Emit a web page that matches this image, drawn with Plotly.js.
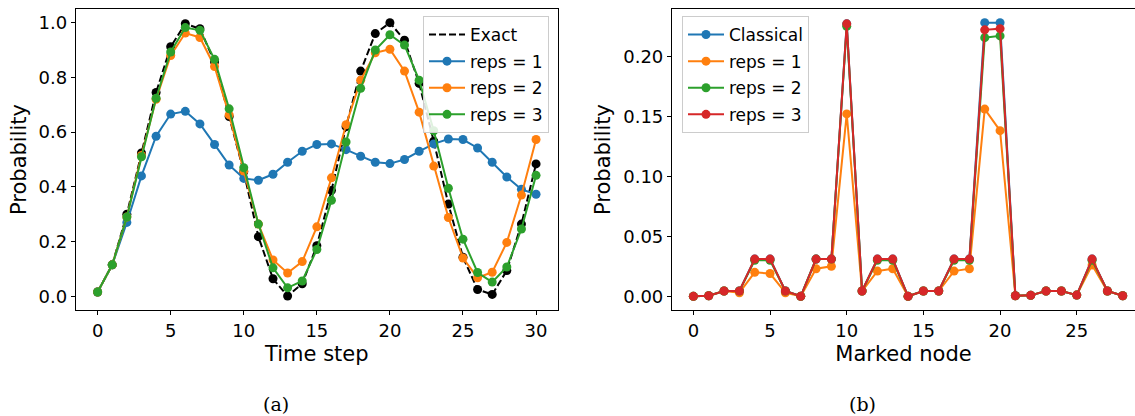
<!DOCTYPE html>
<html>
<head>
<meta charset="utf-8">
<script src="https://cdn.plot.ly/plotly-3.0.1.min.js"></script>
<style>html,body{margin:0;padding:0;background:#fff;}#chart{width:1135px;height:416px;}</style>
</head>
<body>
<div id="chart"></div>
<script>
// ---- Panel (a): probability vs time step ----
const timeSteps = [0,1,2,3,4,5,6,7,8,9,10,11,12,13,14,15,16,17,18,19,20,21,22,23,24,25,26,27,28,29,30];
const exactA = [0.016,0.115,0.30,0.524,0.745,0.912,0.996,0.978,0.857,0.657,0.455,0.218,0.064,0.001,0.046,0.185,0.387,0.62,0.823,0.96,1.0,0.936,0.778,0.567,0.337,0.143,0.025,0.007,0.094,0.264,0.484];
const reps1A = [0.016,0.115,0.27,0.44,0.585,0.666,0.676,0.63,0.555,0.48,0.431,0.424,0.446,0.49,0.53,0.555,0.557,0.536,0.512,0.49,0.485,0.50,0.53,0.557,0.575,0.573,0.542,0.49,0.436,0.391,0.373];
const reps2A = [0.016,0.115,0.29,0.515,0.72,0.88,0.962,0.946,0.84,0.663,0.458,0.264,0.133,0.085,0.127,0.254,0.433,0.627,0.79,0.89,0.903,0.823,0.673,0.476,0.288,0.14,0.068,0.088,0.197,0.37,0.573];
const reps3A = [0.016,0.115,0.29,0.51,0.724,0.893,0.982,0.972,0.866,0.685,0.47,0.264,0.104,0.031,0.056,0.171,0.351,0.564,0.76,0.90,0.956,0.918,0.79,0.605,0.395,0.209,0.087,0.052,0.107,0.246,0.442];

// ---- Panel (b): probability vs marked node ----
const nodes = [0,1,2,3,4,5,6,7,8,9,10,11,12,13,14,15,16,17,18,19,20,21,22,23,24,25,26,27,28];
const classicalB = [0,0.0005,0.0044,0.0044,0.031,0.031,0.0044,0,0.031,0.031,0.227,0.0044,0.031,0.031,0,0.0044,0.0044,0.031,0.031,0.228,0.228,0.0005,0.0008,0.0044,0.0044,0.001,0.031,0.0044,0.0005];
const reps1B = [0,0.0005,0.0044,0.003,0.020,0.019,0.003,0,0.023,0.025,0.152,0.0044,0.021,0.023,0,0.0044,0.0044,0.021,0.023,0.156,0.138,0.0005,0.0008,0.0044,0.0044,0.001,0.026,0.0044,0.0005];
const reps2B = [0,0.0005,0.0044,0.0044,0.030,0.030,0.0044,0,0.031,0.031,0.225,0.0044,0.030,0.030,0,0.0044,0.0044,0.030,0.030,0.2155,0.217,0.0005,0.0008,0.0044,0.0044,0.001,0.030,0.0044,0.0005];
const reps3B = [0,0.0005,0.0044,0.0044,0.031,0.031,0.0044,0,0.031,0.031,0.227,0.0044,0.031,0.031,0,0.0044,0.0044,0.031,0.031,0.222,0.223,0.0005,0.0008,0.0044,0.0044,0.001,0.031,0.0044,0.0005];

const tickA = [0,5,10,15,20,25,30];
const tickB = [0,5,10,15,20,25];
const yTickA = [0,0.2,0.4,0.6,0.8,1.0];
const yTickB = [0,0.05,0.10,0.15,0.20];

const C = {blue:'#1f77b4', orange:'#ff7f0e', green:'#2ca02c', red:'#d62728'};
const FONT = 'DejaVu Sans, sans-serif';
const mk = (c) => ({color:c, size:9});
const ln = (c) => ({color:c, width:2});

const traces = [
  {x:timeSteps, y:exactA, mode:'markers', marker:mk('black'), showlegend:false, xaxis:'x', yaxis:'y', hoverinfo:'skip', legendgroup:'a0'},
  {x:timeSteps, y:exactA, mode:'lines', name:'Exact', line:{color:'black', width:2, dash:'7px,3px'}, xaxis:'x', yaxis:'y', legend:'legend', legendgroup:'a0'},
  {x:timeSteps, y:reps1A, mode:'lines+markers', name:'reps = 1', line:ln(C.blue), marker:mk(C.blue), xaxis:'x', yaxis:'y', legend:'legend', legendgroup:'a1'},
  {x:timeSteps, y:reps2A, mode:'lines+markers', name:'reps = 2', line:ln(C.orange), marker:mk(C.orange), xaxis:'x', yaxis:'y', legend:'legend', legendgroup:'a2'},
  {x:timeSteps, y:reps3A, mode:'lines+markers', name:'reps = 3', line:ln(C.green), marker:mk(C.green), xaxis:'x', yaxis:'y', legend:'legend', legendgroup:'a3'},

  {x:nodes, y:classicalB, mode:'lines+markers', name:'Classical', line:ln(C.blue), marker:mk(C.blue), xaxis:'x2', yaxis:'y2', legend:'legend2', legendgroup:'b0'},
  {x:nodes, y:reps1B, mode:'lines+markers', name:'reps = 1', line:ln(C.orange), marker:mk(C.orange), xaxis:'x2', yaxis:'y2', legend:'legend2', legendgroup:'b1'},
  {x:nodes, y:reps2B, mode:'lines+markers', name:'reps = 2', line:ln(C.green), marker:mk(C.green), xaxis:'x2', yaxis:'y2', legend:'legend2', legendgroup:'b2'},
  {x:nodes, y:reps3B, mode:'lines+markers', name:'reps = 3', line:ln(C.red), marker:mk(C.red), xaxis:'x2', yaxis:'y2', legend:'legend2', legendgroup:'b3'}
];

const axBase = {
  showgrid:false, zeroline:false, showline:true, linecolor:'black', linewidth:1,
  ticks:'outside', ticklen:4, tickwidth:1, tickcolor:'black',
  tickfont:{family:FONT, size:18, color:'black'}
};
const titleFont = {family:FONT, size:21, color:'black'};
const legBase = {
  bgcolor:'rgba(255,255,255,0.85)', bordercolor:'#cccccc', borderwidth:1,
  font:{family:FONT, size:17, color:'black'}, tracegroupgap:1.5, itemwidth:36, traceorder:'grouped'
};

const layout = {
  width:1135, height:416,
  margin:{l:0, r:0, t:0, b:0},
  paper_bgcolor:'white', plot_bgcolor:'white',
  showlegend:true,
  xaxis:Object.assign({}, axBase, {domain:[0.0667,0.4916], range:[-1.5,31.5], tickvals:tickA, mirror:true, anchor:'y',
    title:{text:'Time step', font:titleFont, standoff:6}}),
  yaxis:Object.assign({}, axBase, {domain:[0.2548,0.9784], range:[-0.05,1.05], tickvals:yTickA, tickformat:'.1f', mirror:true, anchor:'x',
    title:{text:'Probability', font:titleFont, standoff:6}}),
  xaxis2:Object.assign({}, axBase, {domain:[0.592,1.0], range:[-1.4,28.8], tickvals:tickB, mirror:true, anchor:'y2',
    title:{text:'Marked node', font:titleFont, standoff:6}}),
  yaxis2:Object.assign({}, axBase, {domain:[0.2548,0.9784], range:[-0.0114,0.2394], tickvals:yTickB, tickformat:'.2f', anchor:'x2',
    title:{text:'Probability', font:titleFont, standoff:6}}),
  legend:Object.assign({}, legBase, {x:549/1135, y:1-16/416, xanchor:'right', yanchor:'top'}),
  legend2:Object.assign({}, legBase, {x:682/1135, y:1-16/416, xanchor:'left', yanchor:'top'}),
  annotations:[
    {text:'(a)', xref:'paper', yref:'paper', x:276/1135, y:1-404/416, xanchor:'center', yanchor:'middle', showarrow:false,
      font:{family:'DejaVu Serif, Liberation Serif, serif', size:19, color:'black'}},
    {text:'(b)', xref:'paper', yref:'paper', x:862/1135, y:1-404/416, xanchor:'center', yanchor:'middle', showarrow:false,
      font:{family:'DejaVu Serif, Liberation Serif, serif', size:19, color:'black'}}
  ]
};

Plotly.newPlot('chart', traces, layout, {displayModeBar:false, staticPlot:true});
</script>
</body>
</html>
